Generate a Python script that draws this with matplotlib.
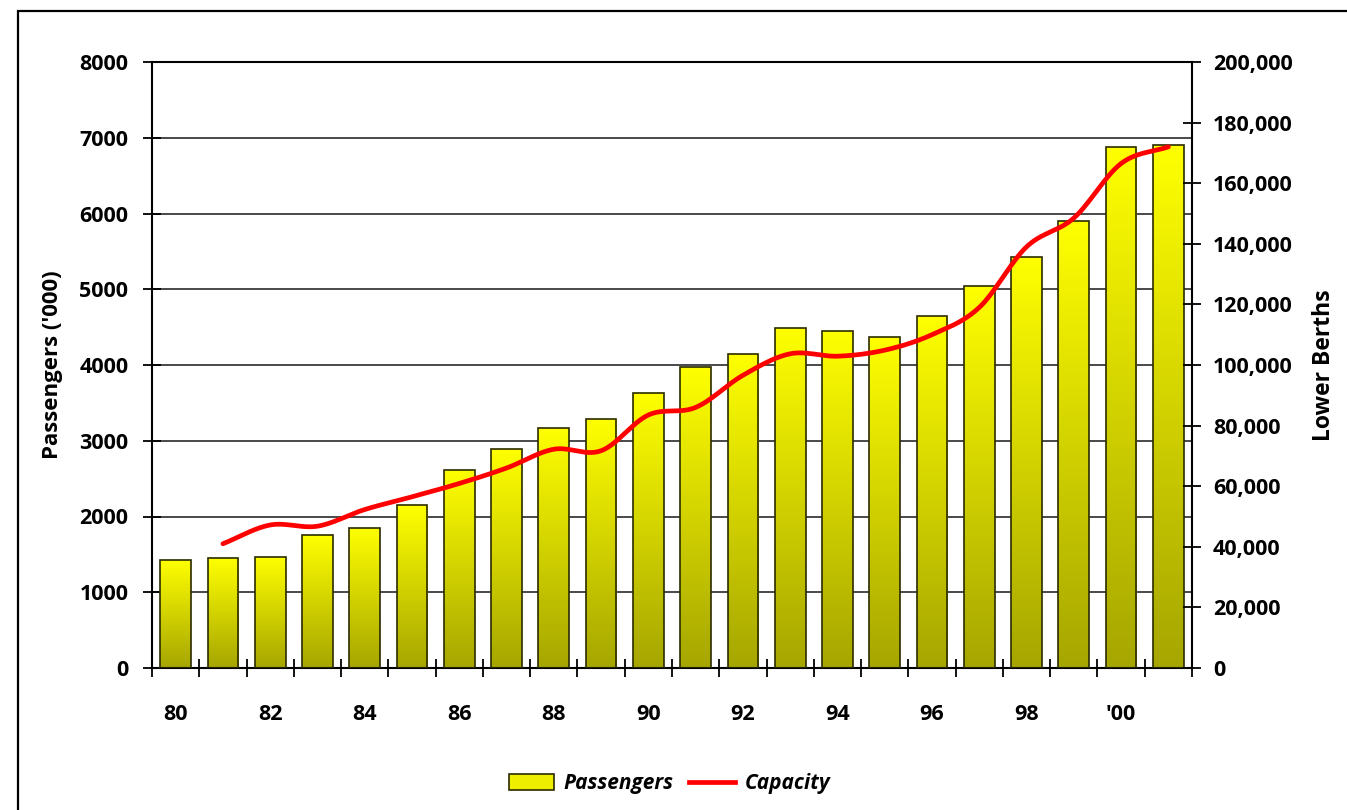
import numpy as np
import matplotlib
matplotlib.use("Agg")
import matplotlib.pyplot as plt
from matplotlib.patches import Patch, Rectangle
from matplotlib.lines import Line2D
from matplotlib.ticker import FuncFormatter, FixedLocator

plt.rcParams['font.family'] = ['Open Sans', 'DejaVu Sans']
plt.rcParams['font.weight'] = 'bold'

years = ['80', '81', '82', '83', '84', '85', '86', '87', '88', '89', '90',
         '91', '92', '93', '94', '95', '96', '97', '98', '99', "'00", '01']
passengers = [1430, 1450, 1470, 1755, 1850, 2150, 2620, 2890, 3170, 3290, 3630,
              3970, 4150, 4490, 4450, 4370, 4650, 5040, 5430, 5900, 6880, 6900]
# capacity (lower berths) from 1981 onwards
capacity_years = years[1:]
capacity = [41000, 47200, 46800, 52300, 56500, 60900, 66000, 72200, 71700, 83500,
            86000, 96600, 103700, 102900, 104900, 110000, 119000, 139000, 148500,
            166500, 172000]
left_ticks = [0, 1000, 2000, 3000, 4000, 5000, 6000, 7000, 8000]
right_ticks = [0, 20000, 40000, 60000, 80000, 100000, 120000, 140000, 160000, 180000, 200000]

W, H = 1347, 810
fig = plt.figure(figsize=(W / 100, H / 100), dpi=100)
ax = fig.add_axes([152 / W, 1 - 668 / H, (1192 - 152) / W, (668 - 62) / H])

x = np.arange(len(years))
bw = 0.65
bars = ax.bar(x, passengers, width=bw, facecolor='none', edgecolor='#2b2b00',
              linewidth=1.2, zorder=3)

# vertical gradient per bar: bright yellow at top -> olive at bottom
n = 256
t = np.linspace(0, 1, n)[:, None]  # 0 = top, 1 = bottom
top = np.array([1.0, 1.0, 0.0])
bot = np.array([0.65, 0.65, 0.0])
grad = top[None, None, :] * (1 - t[..., None]) + bot[None, None, :] * t[..., None]
grad = np.clip(grad, 0, 1)
for b in bars:
    x0, y0 = b.get_x(), b.get_y()
    w, h = b.get_width(), b.get_height()
    im = ax.imshow(grad, extent=[x0, x0 + w, y0, y0 + h], aspect='auto',
                   origin='upper', zorder=2, interpolation='bilinear')
    im.set_clip_path(b)

ax.set_xlim(-0.5, len(years) - 0.5)
ax.set_ylim(0, 8000)
ax.set_yticks(left_ticks)
ax.yaxis.grid(True, color='#3a3a3a', linewidth=1.3, zorder=0)
ax.set_axisbelow(True)

# x ticks: marks at category boundaries, labels at every second category
ax.xaxis.set_major_locator(FixedLocator(x[::2]))
ax.set_xticklabels(years[::2], fontweight='bold')
ax.xaxis.set_minor_locator(FixedLocator(np.arange(-0.5, len(years), 1.0)))
ax.tick_params(axis='x', which='major', length=0, pad=26, labelsize=15.5)
ax.tick_params(axis='x', which='minor', direction='inout', length=13, width=1.3)
ax.tick_params(axis='y', direction='inout', length=13, width=1.3, pad=10.5,
               labelsize=15.5)

for s in ['left', 'bottom', 'top', 'right']:
    ax.spines[s].set_color('black')
    ax.spines[s].set_linewidth(1.5)
ax.set_ylabel("Passengers ('000)", fontsize=16, fontweight='bold', labelpad=12)

ax2 = ax.twinx()
ax2.set_ylim(0, 200000)
ax2.set_yticks(right_ticks)
ax2.yaxis.set_major_formatter(FuncFormatter(lambda v, p: f"{int(v):,}"))
ax2.tick_params(axis='y', direction='inout', length=13, width=1.3, pad=8.5,
                labelsize=15.5)
for s in ['left', 'bottom', 'top', 'right']:
    ax2.spines[s].set_visible(False)
ax2.set_ylabel("Lower Berths", fontsize=16.5, fontweight='bold', labelpad=14)

# smoothed line (Bezier through the yearly values, like a spreadsheet smoothed line)
cx = np.array([years.index(y) for y in capacity_years], dtype=float)
cy = np.array(capacity, dtype=float)
P = np.column_stack([cx, cy])
Pext = np.vstack([P[0] + (P[0] - P[1]), P, P[-1] + (P[-1] - P[-2])])
pts = []
ts = np.linspace(0, 1, 30)
for i in range(1, len(Pext) - 2):
    p0, p1, p2, p3 = Pext[i - 1], Pext[i], Pext[i + 1], Pext[i + 2]
    c1 = p1 + (p2 - p0) / 6
    c2 = p2 - (p3 - p1) / 6
    for tt in (ts[:-1] if i < len(Pext) - 3 else ts):
        b = ((1 - tt) ** 3) * p1 + 3 * ((1 - tt) ** 2) * tt * c1 + 3 * (1 - tt) * tt ** 2 * c2 + tt ** 3 * p2
        pts.append(b)
pts = np.array(pts)
ax2.plot(pts[:, 0], pts[:, 1], color='#ff0000', linewidth=3.4,
         solid_capstyle='round', zorder=5)

# legend
handles = [Patch(facecolor='#eeee00', edgecolor='#2b2b00', linewidth=1.2, label='Passengers'),
           Line2D([], [], color='#ff0000', linewidth=3.4, label='Capacity')]
leg = fig.legend(handles=handles, loc='center', bbox_to_anchor=(0.497, 1 - 784 / H),
                 ncol=2, frameon=False, handlelength=2.2, handleheight=0.8,
                 handletextpad=0.45, columnspacing=0.75,
                 prop={'family': ['Open Sans', 'DejaVu Sans'], 'size': 15,
                       'weight': 'bold', 'style': 'italic'})

# figure border (top and left visible)
fig.add_artist(Rectangle((18 / W, -0.1), 1.2, (H - 11) / H + 0.1,
                         transform=fig.transFigure, fill=False,
                         edgecolor='black', linewidth=1.6, clip_on=False))

fig.savefig('out.png', dpi=100)
